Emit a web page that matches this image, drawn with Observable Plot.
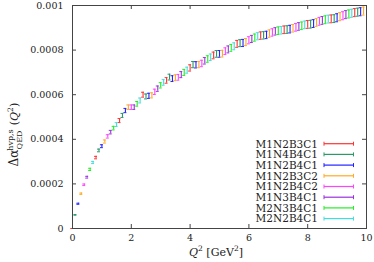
<!DOCTYPE html>
<html><head><meta charset="utf-8">
<script src="https://cdn.jsdelivr.net/npm/d3@7"></script>
<script src="https://cdn.jsdelivr.net/npm/@observablehq/plot@0.6"></script>
<style>body{margin:0;background:#fff}#c{position:relative;width:374px;height:262px}
svg text{font-family:"DejaVu Serif",serif !important}</style>
</head><body><div id="c"></div>
<script>
const seriesNames = ["M1N2B3C1","M1N4B4C1","M1N2B4C1","M1N2B3C2","M1N2B4C2","M1N3B4C1","M2N3B4C1","M2N2B4C1"];
const seriesColors = ["#ff3333","#2a9a66","#2222ff","#ffaa22","#ff44ff","#9933dd","#22ee22","#44dddd"];
const q2 = [0,0.1,0.2,0.3,0.4,0.5,0.6,0.7,0.8,0.9,1.0,1.1,1.2,1.3,1.4,1.5,1.6,1.7,1.8,1.9,
2.0,2.1,2.2,2.3,2.4,2.5,2.6,2.7,2.8,2.9,3.0,3.1,3.2,3.3,3.4,3.5,3.6,3.7,3.8,3.9,
4.0,4.1,4.2,4.3,4.4,4.5,4.6,4.7,4.8,4.9,5.0,5.1,5.2,5.3,5.4,5.5,5.6,5.7,5.8,5.9,
6.0,6.1,6.2,6.3,6.4,6.5,6.6,6.7,6.8,6.9,7.0,7.1,7.2,7.3,7.4,7.5,7.6,7.7,7.8,7.9,
8.0,8.1,8.2,8.3,8.4,8.5,8.6,8.7,8.8,8.9,9.0,9.1,9.2,9.3,9.4,9.5,9.6,9.7,9.8,9.9];
const alpha = [0,0.000061,0.000111,0.000156,0.000196,0.000230,0.000265,0.000296,0.000318,0.000350,
0.000369,0.000390,0.000413,0.000432,0.000450,0.000466,0.000484,0.000507,0.000529,0.000544,
0.000544,0.000544,0.000559,0.000574,0.000600,0.000592,0.000595,0.000597,0.000613,0.000627,
0.000642,0.000655,0.000664,0.000679,0.000672,0.000676,0.000678,0.000690,0.000700,0.000710,
0.000720,0.000735,0.000734,0.000735,0.000740,0.000752,0.000760,0.000768,0.000776,0.000783,
0.000783,0.000784,0.000795,0.000803,0.000810,0.000817,0.000828,0.000831,0.000832,0.000836,
0.000844,0.000850,0.000856,0.000862,0.000865,0.000866,0.000868,0.000874,0.000879,0.000884,
0.000887,0.000889,0.000891,0.000892,0.000894,0.000898,0.000902,0.000906,0.000909,0.000913,
0.000915,0.000916,0.000919,0.000924,0.000929,0.000933,0.000936,0.000939,0.000940,0.000941,
0.000945,0.000950,0.000954,0.000959,0.000962,0.000965,0.000968,0.000970,0.000972,0.000975];
const err = [0,0.0000015,0.0000025,0.000003,0.0000035,0.000004,0.000005,0.000005,0.0000055,0.000006,
0.0000065,0.000007,0.0000075,0.000008,0.000008,0.0000085,0.000009,0.000009,0.0000095,0.00001,
0.00001,0.00001,0.0000105,0.000011,0.000011,0.000011,0.0000115,0.0000115,0.000012,0.000012,
0.000012,0.0000125,0.0000125,0.000013,0.000013,0.000013,0.000013,0.0000135,0.0000135,0.0000135,
0.000014,0.000014,0.000014,0.000014,0.0000145,0.0000145,0.0000145,0.0000145,0.000015,0.000015,
0.000015,0.000015,0.000015,0.0000155,0.0000155,0.0000155,0.0000155,0.0000155,0.000016,0.000016,
0.000016,0.000016,0.000016,0.000016,0.0000165,0.0000165,0.0000165,0.0000165,0.0000165,0.0000165,
0.000017,0.000017,0.000017,0.000017,0.000017,0.000017,0.000017,0.000017,0.000017,0.000017,
0.0000175,0.0000175,0.0000175,0.0000175,0.0000175,0.0000175,0.0000175,0.0000175,0.0000175,0.0000175,
0.000018,0.000018,0.000018,0.000018,0.000018,0.000018,0.000018,0.000018,0.000018,0.000018];
const xTicks = [0,2,4,6,8,10];
const yTicks = [0,0.0002,0.0004,0.0006,0.0008,0.001];

const data = q2.map((x,i)=>({x, v:alpha[i], e:err[i], c:seriesColors[i%seriesColors.length]}));
const capHalf = 0.05;
const W = 374, H = 262, mL = 72, mR = 8, mT = 5, mB = 34;
const innerW = W - mL - mR, innerH = H - mT - mB, tk = 4;

const chart = Plot.plot({
  width:W, height:H, marginLeft:mL, marginRight:mR, marginTop:mT, marginBottom:mB,
  style:{fontFamily:"DejaVu Serif, serif", fontSize:"9.5px", color:"#222", background:"#fff"},
  x:{domain:[0,10]}, y:{domain:[0,0.001]},
  marks:[
    Plot.axisX({ticks:xTicks, tickSize:0, tickPadding:6, tickFormat:d=>String(d), label:null}),
    Plot.axisY({ticks:yTicks, tickSize:0, tickPadding:9, tickFormat:d=>String(d), label:null}),
    Plot.tickX(xTicks, {x:d=>d, insetTop:innerH-tk, stroke:"#444"}),
    Plot.tickX(xTicks, {x:d=>d, insetBottom:innerH-tk, stroke:"#444"}),
    Plot.tickY(yTicks, {y:d=>d, insetRight:innerW-tk, stroke:"#444"}),
    Plot.tickY(yTicks, {y:d=>d, insetLeft:innerW-tk, stroke:"#444"}),
    Plot.ruleX(data, {x:"x", y1:d=>d.v-d.e, y2:d=>d.v+d.e, stroke:"c", strokeWidth:1.1}),
    Plot.ruleY(data, {y:d=>d.v-d.e, x1:d=>d.x-capHalf, x2:d=>d.x+capHalf, stroke:"c", strokeWidth:1}),
    Plot.ruleY(data, {y:d=>d.v+d.e, x1:d=>d.x-capHalf, x2:d=>d.x+capHalf, stroke:"c", strokeWidth:1}),
    Plot.frame({stroke:"#444"})
  ]
});
document.getElementById("c").appendChild(chart);

const svg = d3.select(chart);
// legend
const lg = svg.append("g").attr("font-size", 10.5);
seriesNames.forEach((n,i)=>{
  const y = 143.7 + i*10.7;
  lg.append("text").attr("x",318).attr("y",y+3.8).attr("text-anchor","end").attr("fill","#222").text(n);
  lg.append("line").attr("x1",324).attr("x2",353.5).attr("y1",y).attr("y2",y).attr("stroke",seriesColors[i]).attr("stroke-width",1.2);
  lg.append("line").attr("x1",324).attr("x2",324).attr("y1",y-2).attr("y2",y+2).attr("stroke",seriesColors[i]);
  lg.append("line").attr("x1",353.5).attr("x2",353.5).attr("y1",y-2).attr("y2",y+2).attr("stroke",seriesColors[i]);
});
// x label
const xl = svg.append("text").attr("x",216).attr("y",256).attr("text-anchor","middle")
  .attr("font-size",11).attr("fill","#222");
xl.append("tspan").attr("font-style","italic").text("Q");
xl.append("tspan").attr("font-size",7.5).attr("dy",-5).text("2");
xl.append("tspan").attr("dy",5).text(" [GeV");
xl.append("tspan").attr("font-size",7.5).attr("dy",-5).text("2");
xl.append("tspan").attr("dy",5).text("]");
// y label
const yl = svg.append("g").attr("transform","translate(18,116) rotate(-90)").attr("fill","#222");
yl.append("text").attr("x",-42).attr("y",0).attr("font-size",12).text("Δα");
yl.append("text").attr("x",-24).attr("y",-5).attr("font-size",8).text("hvp,s");
yl.append("text").attr("x",-24).attr("y",3.5).attr("font-size",8).text("QED");
const yt = yl.append("text").attr("x",2).attr("y",0).attr("font-size",11);
yt.append("tspan").text("(");
yt.append("tspan").attr("font-style","italic").text("Q");
yt.append("tspan").attr("font-size",7.5).attr("dy",-5).text("2");
yt.append("tspan").attr("dy",5).text(")");
</script></body></html>
